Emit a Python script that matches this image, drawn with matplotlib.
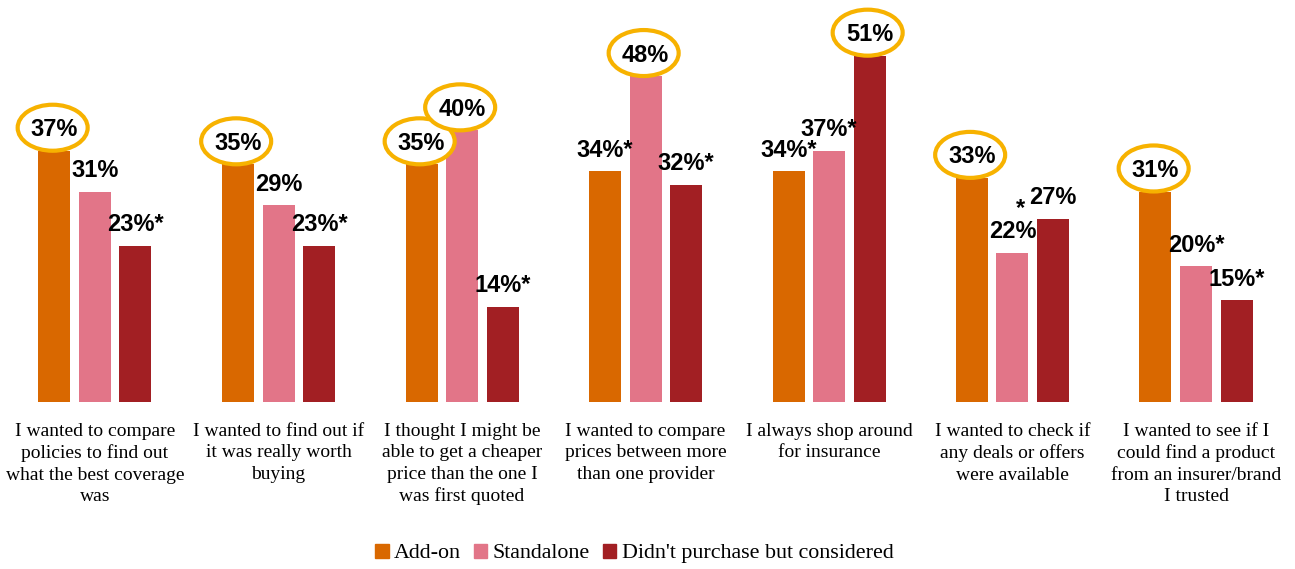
import numpy as np
import matplotlib
matplotlib.use("Agg")
import matplotlib.pyplot as plt
import matplotlib.patches as patches

categories = [
    "I wanted to compare\npolicies to find out\nwhat the best coverage\nwas",
    "I wanted to find out if\nit was really worth\nbuying",
    "I thought I might be\nable to get a cheaper\nprice than the one I\nwas first quoted",
    "I wanted to compare\nprices between more\nthan one provider",
    "I always shop around\nfor insurance",
    "I wanted to check if\nany deals or offers\nwere available",
    "I wanted to see if I\ncould find a product\nfrom an insurer/brand\nI trusted",
]
series = ["Add-on", "Standalone", "Didn't purchase but considered"]
add_on = [37, 35, 35, 34, 34, 33, 31]
standalone = [31, 29, 40, 48, 37, 22, 20]
considered = [23, 23, 14, 32, 51, 27, 15]
# significance marks (*) per series
sig_add_on = [0, 0, 0, 1, 1, 0, 0]
sig_standalone = [0, 0, 0, 0, 1, 1, 1]
sig_considered = [1, 1, 1, 1, 0, 0, 1]
# circled values per series
hl_add_on = [1, 1, 1, 0, 0, 1, 1]
hl_standalone = [0, 0, 1, 1, 0, 0, 0]
hl_considered = [0, 0, 0, 0, 1, 0, 0]

colors = ["#D96800", "#E27588", "#A21F23"]
ring = "#F7B200"
label_font = ["Liberation Sans Narrow", "Liberation Sans", "DejaVu Sans"]
cat_font = ["Liberation Serif", "DejaVu Serif"]

values = [add_on, standalone, considered]
sigs = [sig_add_on, sig_standalone, sig_considered]
hls = [hl_add_on, hl_standalone, hl_considered]

W, H = 1295, 569
fig = plt.figure(figsize=(W / 100, H / 100), dpi=100)
base_px = 402
px_per_pct = 6.79
pitch_px = 183.5
ax = fig.add_axes([0, (H - base_px) / H, 1, base_px / H])
ax.set_xlim(-95 / pitch_px, (W - 95) / pitch_px)
ax.set_ylim(0, base_px / px_per_pct)
ax.axis("off")

x = np.arange(len(categories))
step = 40.5 / pitch_px
bw = 32 / pitch_px
for j, (vals, sg, hl) in enumerate(zip(values, sigs, hls)):
    xs = x + (j - 1) * step
    ax.bar(xs, vals, width=bw, color=colors[j], zorder=2)
    for xi, v, s, h in zip(xs, vals, sg, hl):
        ty = v + 21 / px_per_pct
        if h:
            e = patches.Ellipse((xi - 0.01, ty + 0.3), 70 / pitch_px, 46 / px_per_pct,
                                facecolor="white", edgecolor=ring, lw=3, zorder=3)
            ax.add_patch(e)
        txt = "%d%%" % v
        # the 22% label carries its star above the number
        if s and v == 22 and j == 1:
            ax.text(xi + 0.045, ty + 3.4, "*", ha="center", va="center",
                    fontsize=17, fontweight="bold", family=label_font, zorder=4)
        elif s:
            txt += "*"
        ax.text(xi, ty, txt, ha="center", va="center", fontsize=17,
                fontweight="bold", family=label_font, zorder=4)

for xi, c in zip(x, categories):
    ax.text(xi, -21 / px_per_pct, c, ha="center", va="top", fontsize=14,
            family=cat_font, linespacing=1.33, clip_on=False)

handles = [patches.Patch(color=c) for c in colors]
leg = fig.legend(handles, series, loc="center", bbox_to_anchor=(0.49, 0.027),
                 ncol=3, frameon=False, handlelength=0.6, handleheight=0.6,
                 handletextpad=0.25, columnspacing=0.6,
                 prop={"family": cat_font, "size": 15.8})

fig.savefig("out.png", dpi=100)
